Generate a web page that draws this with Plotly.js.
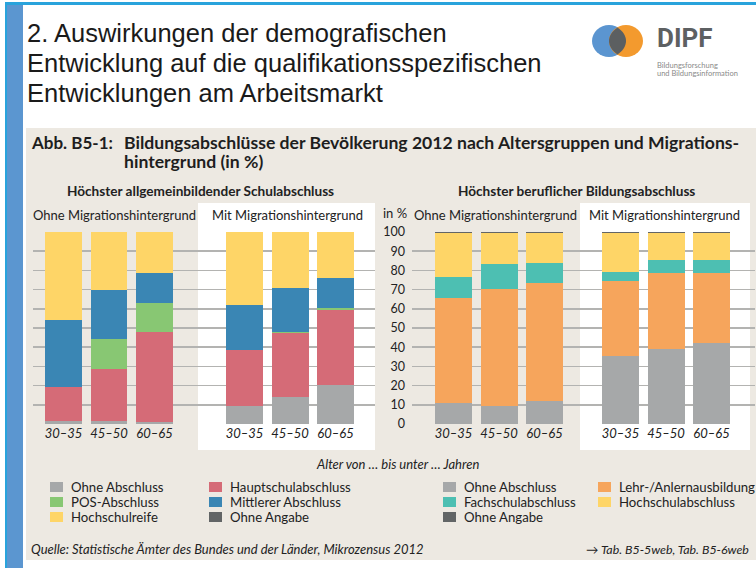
<!DOCTYPE html>
<html><head><meta charset="utf-8">
<script src="https://cdn.plot.ly/plotly-3.0.1.min.js"></script>
<style>html,body{margin:0;padding:0;background:#fff;overflow:hidden}#chart{width:756px;height:568px}</style>
</head><body><div id="chart"></div>
<script>
// ---------- data ----------
const ageGroups = ['30–35', '45–50', '60–65'];

const schulSeries = ['Ohne Abschluss', 'Hauptschulabschluss', 'POS-Abschluss', 'Mittlerer Abschluss', 'Hochschulreife', 'Ohne Angabe'];
const schulColors = ['#a6a8a9', '#d56b77', '#88c773', '#3a86b4', '#fed567', '#626566'];
const berufSeries = ['Ohne Abschluss', 'Lehr-/Anlernausbildung', 'Fachschulabschluss', 'Hochschulabschluss', 'Ohne Angabe'];
const berufColors = ['#a6a8a9', '#f6a55c', '#4dbfb2', '#fed567', '#626566'];

// rows follow the series order (bottom to top), columns follow ageGroups
const schulOhne = [
  [1.7, 1.7, 1.2],
  [17.6, 27.1, 46.7],
  [0.0, 15.6, 15.3],
  [35.0, 25.5, 15.6],
  [45.7, 30.1, 21.2],
  [0.0, 0.0, 0.0]
];
const schulMit = [
  [9.2, 14.2, 20.3],
  [29.1, 33.2, 39.1],
  [0.2, 0.7, 1.0],
  [23.6, 22.5, 15.6],
  [37.9, 29.4, 24.0],
  [0.0, 0.0, 0.0]
];
const berufOhne = [
  [11.1, 9.2, 12.2],
  [54.5, 61.1, 61.1],
  [10.8, 12.9, 10.7],
  [23.1, 16.3, 15.5],
  [0.5, 0.5, 0.5]
];
const berufMit = [
  [35.6, 39.2, 42.4],
  [38.7, 39.6, 36.4],
  [4.9, 6.4, 6.4],
  [20.3, 14.3, 14.3],
  [0.5, 0.5, 0.5]
];

const panelLabels = ['Ohne Migrationshintergrund', 'Mit Migrationshintergrund'];
const groupTitles = ['Höchster allgemeinbildender Schulabschluss', 'Höchster beruflicher Bildungsabschluss'];
const headerLines = ['2. Auswirkungen der demografischen', 'Entwicklung auf die qualifikationsspezifischen', 'Entwicklungen am Arbeitsmarkt'];

// ---------- helpers ----------
const W = 756, H = 568;
const fx = x => x / W;
const fy = y => 1 - y / H;
const FONT = 'Lato, "Open Sans", sans-serif';
const TXT = '#222222';

const panels = [
  {vals: schulOhne, names: schulSeries, colors: schulColors},
  {vals: schulMit, names: schulSeries, colors: schulColors},
  {vals: berufOhne, names: berufSeries, colors: berufColors},
  {vals: berufMit, names: berufSeries, colors: berufColors}
];

const data = [];
panels.forEach((p, pi) => {
  const ax = pi === 0 ? '' : String(pi + 1);
  p.vals.forEach((row, si) => {
    data.push({
      type: 'bar', x: ageGroups, y: row, name: p.names[si],
      marker: {color: p.colors[si], line: {width: 0}},
      xaxis: 'x' + ax, yaxis: 'y' + ax, showlegend: false, hoverinfo: 'skip'
    });
  });
});

const xDomains = [[33, 198], [198, 375], [412, 579], [579, 755]];
const xRanges = [[-0.67, 2.956], [-1.022, 2.868], [-0.912, 2.758], [-0.912, 2.956]];

const layout = {
  width: W, height: H,
  margin: {l: 0, r: 0, t: 0, b: 0},
  paper_bgcolor: '#ffffff', plot_bgcolor: 'rgba(0,0,0,0)',
  barmode: 'stack', bargap: 0.187,
  font: {family: FONT, color: TXT, size: 13},
  shapes: [], annotations: []
};

for (let i = 0; i < 4; i++) {
  const ax = i === 0 ? '' : String(i + 1);
  layout['xaxis' + ax] = {
    domain: [fx(xDomains[i][0]), fx(xDomains[i][1])],
    range: xRanges[i], type: 'category', categoryarray: ageGroups,
    anchor: 'y' + ax, showgrid: false, zeroline: false, showline: false, ticks: '',
    tickfont: {family: FONT, size: 13, style: 'italic', color: TXT}, fixedrange: true
  };
  layout['yaxis' + ax] = {
    domain: [fy(424), fy(232)], range: [0, 100], dtick: 10, tick0: 0,
    anchor: 'x' + ax, showgrid: true, gridcolor: '#b3b3b1', gridwidth: 1.5,
    zeroline: false, showline: false, ticks: '',
    showticklabels: i === 2, ticklabelstandoff: 6,
    tickfont: {family: FONT, size: 12.5, color: TXT}, fixedrange: true
  };
}

const S = layout.shapes;
function rect(x0, y0, x1, y1, color, layer) {
  S.push({type: 'rect', xref: 'paper', yref: 'paper', x0: fx(x0), x1: fx(x1), y0: fy(y1), y1: fy(y0),
    fillcolor: color, line: {width: 0}, layer: layer || 'below'});
}
// page frame
rect(26, 128, 756, 560, '#ede9e2');
rect(198, 203, 375, 450, '#ffffff');
rect(580, 203, 750, 450, '#ffffff');
rect(5, 2, 756, 5, '#29a3dc');
rect(5, 2, 7, 568, '#29a3dc');
rect(7, 5, 23, 568, '#5b96d0');
// logo
S.push({type: 'circle', xref: 'paper', yref: 'paper', x0: fx(592), x1: fx(626), y0: fy(57), y1: fy(25), fillcolor: '#5b95d0', line: {width: 0}, layer: 'above'});
S.push({type: 'circle', xref: 'paper', yref: 'paper', x0: fx(609), x1: fx(643), y0: fy(57), y1: fy(25), fillcolor: '#f39a2e', line: {width: 0}, layer: 'above'});
const P = (x, y) => fx(x).toFixed(5) + ',' + fy(y).toFixed(5);
S.push({type: 'path', xref: 'paper', yref: 'paper', layer: 'above', fillcolor: '#5c5f61', line: {width: 0},
  path: 'M' + P(617.5, 27.5) + ' C' + P(612, 31) + ' ' + P(609, 36) + ' ' + P(609, 41) +
        ' C' + P(609, 46) + ' ' + P(612, 51) + ' ' + P(617.5, 54.5) +
        ' C' + P(623, 51) + ' ' + P(626, 46) + ' ' + P(626, 41) +
        ' C' + P(626, 36) + ' ' + P(623, 31) + ' ' + P(617.5, 27.5) + ' Z'});

const A = layout.annotations;
function txt(x, y, text, opts) {
  opts = opts || {};
  A.push({xref: 'paper', yref: 'paper', x: fx(x), y: fy(y), text: text, showarrow: false,
    xanchor: opts.anchor || 'left', yanchor: 'middle', borderpad: 0,
    font: {family: opts.family || FONT, size: opts.size || 13, color: opts.color || TXT,
      weight: opts.weight || 'normal', style: opts.style || 'normal'}});
}
// header
headerLines.forEach((t, i) => txt(26, 33 + i * 30, t, {family: '"Liberation Sans", Arial, sans-serif', size: 25.5, color: '#1a1a1a'}));
txt(656, 38, 'DIPF', {family: '"Liberation Sans Narrow", Roboto, sans-serif', size: 26, weight: 'bold', color: '#5d6062'});
txt(656, 66, 'Bildungsforschung', {size: 7.5, color: '#8a8a8a'});
txt(656, 74, 'und Bildungsinformation', {size: 7.5, color: '#8a8a8a'});
// chart title
txt(30, 142, 'Abb. B5-1:', {size: 17, weight: 'bold', color: '#1e1e1e'});
txt(123, 142, 'Bildungsabschlüsse der Bevölkerung 2012 nach Altersgruppen und Migrations-', {size: 17.6, weight: 'bold', color: '#1e1e1e'});
txt(123, 161, 'hintergrund (in %)', {size: 17.6, weight: 'bold', color: '#1e1e1e'});
// group titles
txt(200, 191, groupTitles[0], {anchor: 'center', size: 13.6, weight: 'bold'});
txt(576, 191, groupTitles[1], {anchor: 'center', size: 13.6, weight: 'bold'});
// panel labels
txt(32, 215, panelLabels[0]);
txt(211, 215, panelLabels[1]);
txt(413, 215, panelLabels[0]);
txt(588, 215, panelLabels[1]);
txt(382, 213, 'in %');
// x-axis title
txt(397, 464, 'Alter von … bis unter … Jahren', {anchor: 'center', style: 'italic'});
// legends
function legend(names, colors, xs) {
  names.forEach((n, i) => {
    const col = i % 2, row = Math.floor(i / 2);
    const yc = 487 + row * 15;
    const sx = xs[col];
    S.push({type: 'rect', xref: 'paper', yref: 'paper', x0: fx(sx), x1: fx(sx + 13), y0: fy(yc + 5), y1: fy(yc - 5),
      fillcolor: colors[i], line: {width: 0}, layer: 'above'});
    txt(sx + 20, yc, n, {size: 13.2});
  });
}
legend(schulSeries, schulColors, [50, 209]);
legend(berufSeries, berufColors, [443, 598]);
// footer
txt(30, 549, 'Quelle: Statistische Ämter des Bundes und der Länder, Mikrozensus 2012', {style: 'italic'});
txt(585, 549, '→ Tab. B5-5web, Tab. B5-6web', {style: 'italic', size: 12.4});

Plotly.newPlot('chart', data, layout, {displayModeBar: false, staticPlot: true});
</script>
</body></html>
